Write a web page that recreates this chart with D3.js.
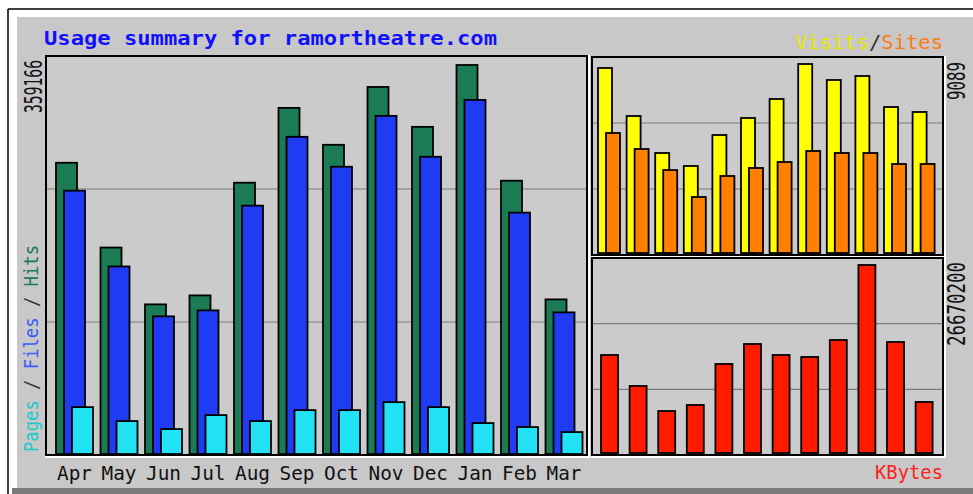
<!DOCTYPE html>
<html><head><meta charset="utf-8">
<script src="https://cdn.jsdelivr.net/npm/d3@7"></script>
<style>body{margin:0;background:#fff}svg{display:block}</style>
</head><body>
<script>
const months = ["Apr","May","Jun","Jul","Aug","Sep","Oct","Nov","Dec","Jan","Feb","Mar"];
const hits   = [268900,190630,138140,146430,250490,319560,285490,338900,302060,359166,252330,142740];
const files  = [243120,173130,127090,132610,229310,292850,265220,312190,274430,326920,222860,130770];
const pages  = [43280,30390,23020,35920,30390,40520,40520,47890,43280,28550,24860,20260];
const visits = [8897,6588,4809,4184,5675,6492,7406,9089,8320,8512,7021,6781];
const sites  = [5771,5001,3991,2693,3703,4088,4376,4905,4809,4809,4280,4280];
const kbytes = [13902500,9504800,5958200,6809400,12625700,15463000,13902500,13618800,16030400,26670200,15746700,7235000];
const maxLabels = ["359166","9089","26670200"];
const title = "Usage summary for ramortheatre.com";

const W=973,H=494;
const svg=d3.select("body").append("svg").attr("width",W).attr("height",H);
const mono="'DejaVu Sans Mono','Liberation Mono',monospace";

// outer frame
svg.append("rect").attr("x",0).attr("y",0).attr("width",W).attr("height",H).attr("fill","#fff");
svg.append("rect").attr("x",17).attr("y",17).attr("width",W-17).attr("height",471).attr("fill","#c8c8c8");
svg.append("rect").attr("x",12).attr("y",488).attr("width",W-12).attr("height",6).attr("fill","#7a7a7a");
svg.append("line").attr("x1",8).attr("x2",W).attr("y1",9).attr("y2",9).attr("stroke","#000").attr("stroke-width",1.5);
svg.append("line").attr("x1",8).attr("x2",8).attr("y1",9).attr("y2",H).attr("stroke","#000").attr("stroke-width",1.5);

function panel(x0,y0,x1,y1){
  svg.append("rect").attr("x",x0).attr("y",y0).attr("width",x1-x0).attr("height",y1-y0).attr("fill","#cbcbcb");
  const gy=d3.scaleLinear().domain([0,3]).range([y1,y0]);
  svg.selectAll(null).data([1,2]).enter().append("line")
    .attr("x1",x0).attr("x2",x1).attr("y1",d=>gy(d)).attr("y2",d=>gy(d))
    .attr("stroke","#7c7c7c").attr("stroke-width",1.2);
}
function frame(x0,y0,x1,y1){
  svg.append("polyline").attr("points",`${x1+2},${y0-1} ${x1+2},${y1+2} ${x0-1},${y1+2}`)
    .attr("fill","none").attr("stroke","#fff").attr("stroke-width",2);
  svg.append("rect").attr("x",x0).attr("y",y0).attr("width",x1-x0).attr("height",y1-y0)
    .attr("fill","none").attr("stroke","#000").attr("stroke-width",2);
}

// main panel
const M={x0:46,y0:56,x1:587,y1:455};
panel(M.x0,M.y0,M.x1,M.y1);
const xm=d3.scaleBand().domain(months).range([52,586]);
const ym=d3.scaleLinear().domain([0,359166]).range([454,65]);
const seriesMain=[{v:hits,c:"#1b7b55",o:4},{v:files,c:"#1f3cf4",o:12},{v:pages,c:"#22e2f6",o:20}];
seriesMain.forEach(s=>{
  svg.append("g").selectAll("rect").data(months).enter().append("rect")
    .attr("x",m=>xm(m)+s.o).attr("width",21)
    .attr("y",(m,i)=>ym(s.v[i])).attr("height",(m,i)=>ym(0)-ym(s.v[i]))
    .attr("fill",s.c).attr("stroke","#000").attr("stroke-width",1.8);
});
frame(M.x0,M.y0,M.x1,M.y1);

// visits panel
const V={x0:592,y0:57,x1:943,y1:255};
panel(V.x0,V.y0,V.x1,V.y1);
const xr=d3.scaleBand().domain(months).range([594,937.2]);
const yv=d3.scaleLinear().domain([0,9089]).range([253,64]);
[{v:visits,c:"#ffff00",o:4},{v:sites,c:"#ff8000",o:12}].forEach(s=>{
  svg.append("g").selectAll("rect").data(months).enter().append("rect")
    .attr("x",m=>xr(m)+s.o).attr("width",14)
    .attr("y",(m,i)=>yv(s.v[i])).attr("height",(m,i)=>yv(0)-yv(s.v[i]))
    .attr("fill",s.c).attr("stroke","#000").attr("stroke-width",1.8);
});
frame(V.x0,V.y0,V.x1,V.y1);

// kbytes panel
const K={x0:592,y0:258,x1:943,y1:455};
panel(K.x0,K.y0,K.x1,K.y1);
const yk=d3.scaleLinear().domain([0,26670200]).range([453,265]);
svg.append("g").selectAll("rect").data(months).enter().append("rect")
  .attr("x",m=>xr(m)+7).attr("width",17)
  .attr("y",(m,i)=>yk(kbytes[i])).attr("height",(m,i)=>yk(0)-yk(kbytes[i]))
  .attr("fill","#ff1a00").attr("stroke","#000").attr("stroke-width",1.8);
frame(K.x0,K.y0,K.x1,K.y1);

// month labels
svg.append("g").selectAll("text").data(months).enter().append("text")
  .attr("x",m=>xm(m)+22.5).attr("y",480).attr("text-anchor","middle")
  .attr("font-family",mono).attr("font-size",19).attr("fill","#111")
  .attr("textLength",35).attr("lengthAdjust","spacingAndGlyphs").text(m=>m);

// title
svg.append("text").attr("x",44).attr("y",45).attr("font-family",mono).attr("font-weight","bold")
  .attr("font-size",20).attr("fill","#1010ff").attr("textLength",453).attr("lengthAdjust","spacingAndGlyphs").text(title);

// Visits / Sites legend
const vs=svg.append("text").attr("x",795).attr("y",49).attr("font-family",mono).attr("font-size",19)
  .attr("textLength",148).attr("lengthAdjust","spacingAndGlyphs");
vs.append("tspan").attr("fill","#e8e800").text("Visits");
vs.append("tspan").attr("fill","#333").text("/");
vs.append("tspan").attr("fill","#ff7a10").text("Sites");

// KBytes legend
svg.append("text").attr("x",875).attr("y",479).attr("font-family",mono).attr("font-size",19)
  .attr("fill","#ff2020").attr("textLength",68).attr("lengthAdjust","spacingAndGlyphs").text("KBytes");

// rotated max labels
function upText(x,yEnd,len,size,txt){
  return svg.append("text").attr("transform",`translate(${x},${yEnd}) rotate(-90)`)
    .attr("text-anchor","end").attr("font-family",mono).attr("font-size",size).attr("fill","#111")
    .attr("textLength",len).attr("lengthAdjust","spacingAndGlyphs").text(txt);
}
upText(42,60,53,24,maxLabels[0]);
upText(965,62,38,24,maxLabels[1]);
upText(965,262,84,24,maxLabels[2]);

// Pages / Files / Hits legend (vertical)
const pf=svg.append("text").attr("transform","translate(38,452) rotate(-90)")
  .attr("font-family",mono).attr("font-size",20).attr("textLength",207).attr("lengthAdjust","spacingAndGlyphs");
pf.append("tspan").attr("fill","#20c8c8").text("Pages");
pf.append("tspan").attr("fill","#333").text(" / ");
pf.append("tspan").attr("fill","#3a5cff").text("Files");
pf.append("tspan").attr("fill","#333").text(" / ");
pf.append("tspan").attr("fill","#1b7b55").text("Hits");
</script>
</body></html>
